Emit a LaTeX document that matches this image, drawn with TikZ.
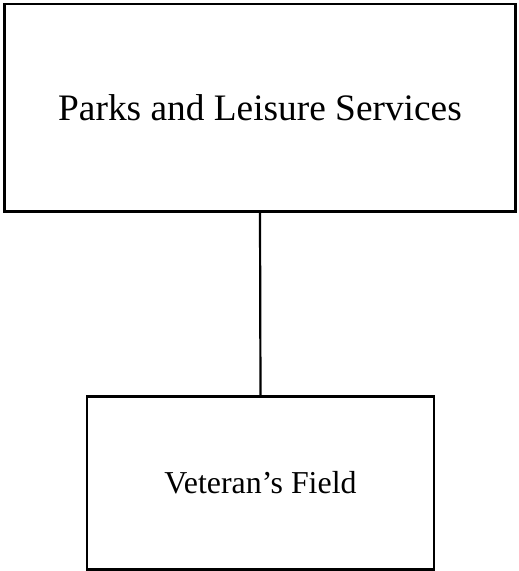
\documentclass[tikz,border=0pt]{standalone}
\usepackage{fontspec}
\setmainfont{Liberation Serif}
\usetikzlibrary{positioning}
\tikzset{
  caja/.style={draw, line width=2.6bp, inner sep=0pt, align=center},
  enlace/.style={line width=2.2bp},
}

\begin{document}
\begin{tikzpicture}[x=1bp, y=-1bp]
  \useasboundingbox (0,0) rectangle (519,571);
  \node[caja, minimum width=511bp, minimum height=207.5bp, font=\fontsize{37.5}{42}\selectfont]
    (parques) at (260,107.75) {Parks and Leisure Services};
  \node[caja, minimum width=347bp, minimum height=173bp, font=\fontsize{32}{36}\selectfont]
    (campo) at (260.5,483) {Veteran's Field};
  \draw[enlace] (parques.south) -- (campo.north);
\end{tikzpicture}
\end{document}
